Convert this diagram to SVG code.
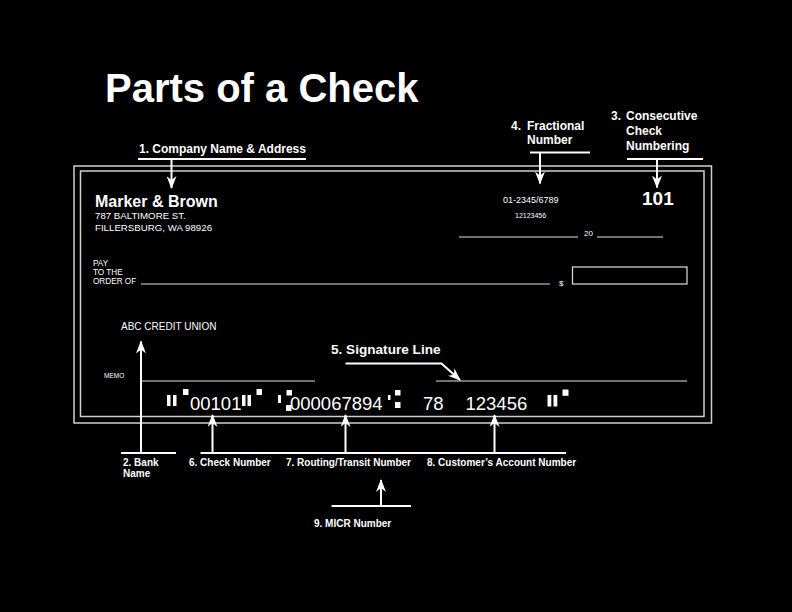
<svg xmlns="http://www.w3.org/2000/svg" width="792" height="612" viewBox="0 0 792 612">
<style>
text{font-family:"Liberation Sans",Arial,sans-serif;fill:#fff}
.b{font-weight:bold}
.lbl{font-weight:bold;font-size:12px}
.blbl{font-weight:bold;font-size:10px}
.micr{font-size:18.5px}
.bar{stroke:#fff;stroke-width:2;fill:none}
.arr{stroke:#fff;stroke-width:2;fill:none;marker-end:url(#ah)}
.ln{stroke:#e0e0e0;stroke-width:1;fill:none}
.bd{stroke:#cfcfcf;stroke-width:1.5;fill:none}
.sym{fill:#fff}
</style>
<defs>
<marker id="ah" viewBox="0 0 13 10" refX="12" refY="5" markerWidth="13" markerHeight="10" orient="auto" markerUnits="userSpaceOnUse">
<path d="M0,0 L13,5 L0,10 L4,5 Z" fill="#fff"/>
</marker>
</defs>
<rect width="792" height="612" fill="#000"/>

<g id="title"><text x="105" y="101.5" class="b" font-size="40">Parts of a Check</text></g>

<g id="check">
<rect class="bd" x="74" y="166" width="637.5" height="257"/>
<rect class="bd" x="80.5" y="171" width="623.5" height="245.5"/>
<text x="95" y="206.7" class="b" font-size="16">Marker &amp; Brown</text>
<text x="95" y="219" font-size="9.7">787 BALTIMORE ST.</text>
<text x="95" y="230.7" font-size="9.7">FILLERSBURG, WA 98926</text>
<text x="503" y="203" font-size="9">01-2345/6789</text>
<text x="515" y="217.7" font-size="7">12123456</text>
<line class="ln" x1="459" y1="237" x2="578" y2="237"/>
<text x="584" y="236" font-size="8">20</text>
<line class="ln" x1="597" y1="237" x2="663" y2="237"/>
<text x="642" y="205" class="b" font-size="19">101</text>
<text x="93" y="266" font-size="8.2">PAY</text>
<text x="93" y="275" font-size="8.2">TO THE</text>
<text x="93" y="284" font-size="8.2">ORDER OF</text>
<line class="ln" x1="141" y1="284" x2="550" y2="284"/>
<text x="559" y="286" font-size="8">$</text>
<rect x="572.5" y="267" width="114.5" height="17" fill="none" stroke="#e0e0e0" stroke-width="1.2"/>
<text x="121" y="330" font-size="10">ABC CREDIT UNION</text>
<text x="104" y="378" font-size="6.5">MEMO</text>
<line class="ln" x1="141" y1="381" x2="315" y2="381"/>
<line class="ln" x1="436" y1="381" x2="687" y2="381"/>
<g id="micr-line">
<rect class="sym" x="167" y="395" width="3.5" height="11"/>
<rect class="sym" x="173" y="395" width="3.5" height="11"/>
<rect class="sym" x="183" y="389" width="5.5" height="6"/>
<text x="190" y="409.5" class="micr">00101</text>
<rect class="sym" x="242" y="395" width="3.5" height="11"/>
<rect class="sym" x="247.5" y="395" width="3.5" height="11"/>
<rect class="sym" x="256.5" y="389" width="5.5" height="6"/>
<rect class="sym" x="278" y="395" width="3" height="8"/>
<rect class="sym" x="286.5" y="390" width="5.5" height="5.5"/>
<rect class="sym" x="286" y="405" width="5.5" height="6"/>
<text x="290" y="409.5" class="micr">000067894</text>
<rect class="sym" x="388" y="395" width="2.5" height="5"/>
<rect class="sym" x="395" y="390" width="5.5" height="5.5"/>
<rect class="sym" x="395" y="402" width="5.5" height="6"/>
<text x="423" y="409.5" class="micr">78</text>
<text x="465.5" y="409.5" class="micr">123456</text>
<rect class="sym" x="547.5" y="395" width="3.8" height="11.5"/>
<rect class="sym" x="553.5" y="395" width="3.8" height="11.5"/>
<rect class="sym" x="562.5" y="389.5" width="6" height="6.3"/>
</g>
</g>

<g id="n1"><text x="139" y="152.5" class="lbl">1. Company Name &amp; Address</text></g>
<g id="n2"><text x="123" y="466" class="blbl">2. Bank</text><text x="123" y="477" class="blbl">Name</text></g>
<g id="n3"><text x="611" y="120" class="lbl">3.</text><text x="626" y="120" class="lbl">Consecutive</text><text x="626" y="135" class="lbl">Check</text><text x="626" y="150" class="lbl">Numbering</text></g>
<g id="n4"><text x="511" y="130" class="lbl">4.</text><text x="527" y="130" class="lbl">Fractional</text><text x="527" y="144.3" class="lbl">Number</text></g>
<g id="n5"><text x="331" y="353.5" class="b" font-size="13.6">5. Signature Line</text></g>
<g id="n6"><text x="189" y="466" class="blbl">6. Check Number</text></g>
<g id="n7"><text x="286" y="466" class="blbl">7. Routing/Transit Number</text></g>
<g id="n8"><text x="427" y="466" class="blbl">8. Customer’s Account Number</text></g>
<g id="n9"><text x="314" y="526.5" class="blbl">9. MICR Number</text></g>

<g id="connectors">
<line class="bar" x1="138" y1="159" x2="306" y2="159"/>
<line class="arr" x1="171.5" y1="159" x2="171.5" y2="188"/>
<line class="bar" x1="530" y1="152.5" x2="590" y2="152.5"/>
<line class="arr" x1="540" y1="152.5" x2="540" y2="183.5"/>
<line class="bar" x1="627" y1="159" x2="703" y2="159"/>
<line class="arr" x1="657" y1="159" x2="657" y2="187.5"/>
<line class="bar" x1="121" y1="453" x2="176" y2="453"/>
<line class="arr" x1="141" y1="453" x2="141" y2="341.5"/>
<line class="bar" x1="200.5" y1="453" x2="566" y2="453"/>
<line class="arr" x1="212.5" y1="453" x2="212.5" y2="415"/>
<line class="arr" x1="345.5" y1="453" x2="345.5" y2="415"/>
<line class="arr" x1="494.5" y1="453" x2="494.5" y2="415"/>
<line class="bar" x1="331.5" y1="506" x2="411" y2="506"/>
<line class="arr" x1="381" y1="506" x2="381" y2="480"/>
<polyline class="arr" points="345.5,363.5 441.5,363.5 460,380"/>
</g>
</svg>
